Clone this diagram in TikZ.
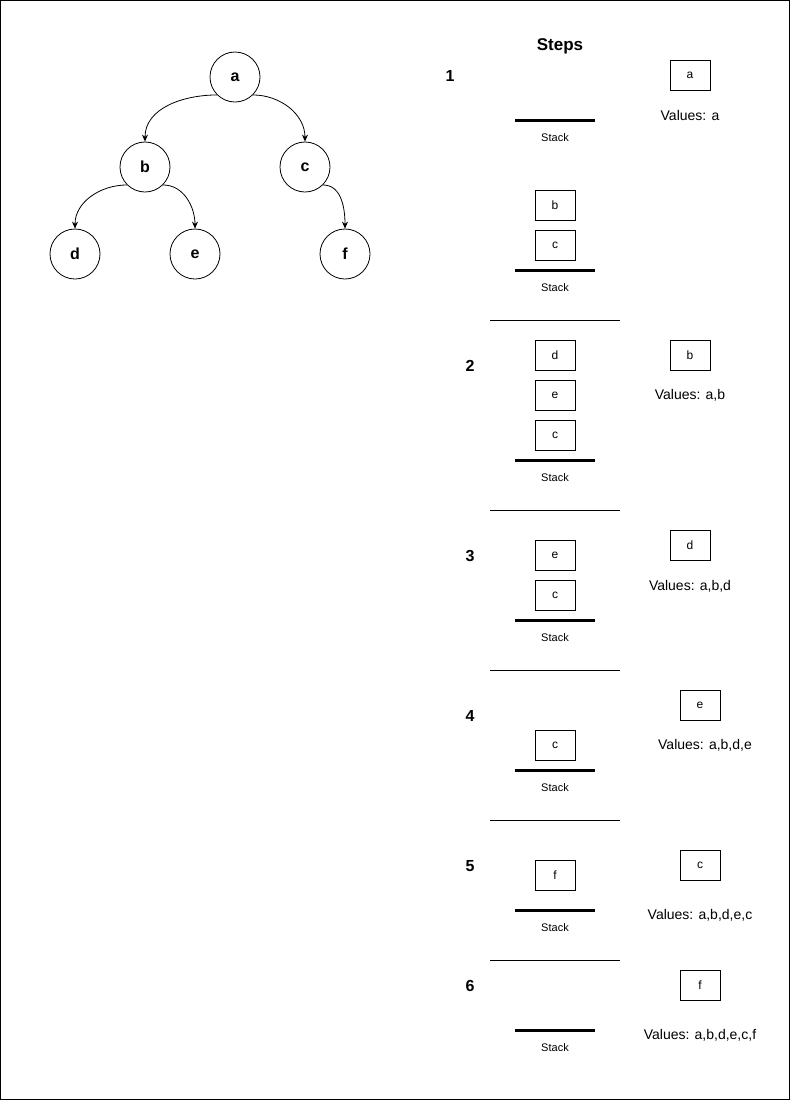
\documentclass[tikz,border=0pt]{standalone}
\usepackage{fontspec}
\setmainfont{Liberation Sans}
\usetikzlibrary{arrows.meta}
\tikzset{
  treenode/.style={circle, draw, line width=0.8pt, minimum size=50pt, inner sep=0pt, font=\fontsize{16}{18}\selectfont\bfseries},
  cell/.style={draw, line width=0.8pt, minimum width=40pt, minimum height=30pt, inner sep=0pt, font=\fontsize{12}{14}\selectfont},
  stackbase/.style={line width=3pt},
  stacklabel/.style={font=\fontsize{11}{13}\selectfont},
  vallabel/.style={font=\fontsize{14}{16}\selectfont},
  stepnum/.style={font=\fontsize{16}{18}\selectfont\bfseries},
  sepline/.style={line width=0.8pt},
  edge/.style={-{Stealth[length=7pt,width=6pt]}, line width=0.8pt},
}
\begin{document}
\begin{tikzpicture}[x=1pt,y=-1pt]
\useasboundingbox (0,0) rectangle (791,1101);
\draw[line width=1pt] (0.5,0.5) rectangle (789.5,1099.5);
% tree
\node[treenode] (a) at (235,77) {a};
\node[treenode] (b) at (145,167) {b};
\node[treenode] (c) at (305,167) {c};
\node[treenode] (d) at (75,254) {d};
\node[treenode] (e) at (195,254) {e};
\node[treenode] (f) at (345,254) {f};
\draw[edge] (a.south west) to[out=180,in=90] (b.north);
\draw[edge] (a.south east) to[out=0,in=90] (c.north);
\draw[edge] (b.south west) to[out=180,in=90] (d.north);
\draw[edge] (b.south east) to[out=0,in=90] (e.north);
\draw[edge] (c.south east) to[out=0,in=90] (f.north);
% title
\node[font=\fontsize{17}{19}\selectfont\bfseries] (steps) at (560,46) {Steps};
% step 1
\node[stepnum] (n1) at (450,76) {1};
\coordinate (s1l) at (515,120); \coordinate (s1r) at (595,120);
\draw[stackbase] (s1l) -- (s1r);
\node[stacklabel] (st1) at (555,138) {Stack};
\node[cell] (v1) at (690,75) {a};
\node[vallabel] (val1) at (690,115) {Values: a};
\node[cell] (s1b) at (555,205) {b};
\node[cell] (s1c) at (555,245) {c};
\coordinate (s1bl) at (515,270); \coordinate (s1br) at (595,270);
\draw[stackbase] (s1bl) -- (s1br);
\node[stacklabel] (st1b) at (555,288) {Stack};
\coordinate (p1l) at (490,320); \coordinate (p1r) at (620,320);
\draw[sepline] (p1l) -- (p1r);
% step 2
\node[stepnum] (n2) at (470,366) {2};
\node[cell] (s2d) at (555,355) {d};
\node[cell] (s2e) at (555,395) {e};
\node[cell] (s2c) at (555,435) {c};
\coordinate (s2l) at (515,460); \coordinate (s2r) at (595,460);
\draw[stackbase] (s2l) -- (s2r);
\node[stacklabel] (st2) at (555,478) {Stack};
\node[cell] (v2) at (690,355) {b};
\node[vallabel] (val2) at (690,395) {Values: a,b};
\coordinate (p2l) at (490,510); \coordinate (p2r) at (620,510);
\draw[sepline] (p2l) -- (p2r);
% step 3
\node[stepnum] (n3) at (470,556) {3};
\node[cell] (s3e) at (555,555) {e};
\node[cell] (s3c) at (555,595) {c};
\coordinate (s3l) at (515,620); \coordinate (s3r) at (595,620);
\draw[stackbase] (s3l) -- (s3r);
\node[stacklabel] (st3) at (555,638) {Stack};
\node[cell] (v3) at (690,545) {d};
\node[vallabel] (val3) at (690,586) {Values: a,b,d};
\coordinate (p3l) at (490,670); \coordinate (p3r) at (620,670);
\draw[sepline] (p3l) -- (p3r);
% step 4
\node[stepnum] (n4) at (470,716) {4};
\node[cell] (s4c) at (555,745) {c};
\coordinate (s4l) at (515,770); \coordinate (s4r) at (595,770);
\draw[stackbase] (s4l) -- (s4r);
\node[stacklabel] (st4) at (555,788) {Stack};
\node[cell] (v4) at (700,705) {e};
\node[vallabel] (val4) at (705,745) {Values: a,b,d,e};
\coordinate (p4l) at (490,820); \coordinate (p4r) at (620,820);
\draw[sepline] (p4l) -- (p4r);
% step 5
\node[stepnum] (n5) at (470,866) {5};
\node[cell] (s5f) at (555,875) {f};
\coordinate (s5l) at (515,910); \coordinate (s5r) at (595,910);
\draw[stackbase] (s5l) -- (s5r);
\node[stacklabel] (st5) at (555,928) {Stack};
\node[cell] (v5) at (700,865) {c};
\node[vallabel] (val5) at (700,915) {Values: a,b,d,e,c};
\coordinate (p5l) at (490,960); \coordinate (p5r) at (620,960);
\draw[sepline] (p5l) -- (p5r);
% step 6
\node[stepnum] (n6) at (470,986) {6};
\coordinate (s6l) at (515,1030); \coordinate (s6r) at (595,1030);
\draw[stackbase] (s6l) -- (s6r);
\node[stacklabel] (st6) at (555,1048) {Stack};
\node[cell] (v6) at (700,985) {f};
\node[vallabel] (val6) at (700,1035) {Values: a,b,d,e,c,f};
\end{tikzpicture}
\end{document}
